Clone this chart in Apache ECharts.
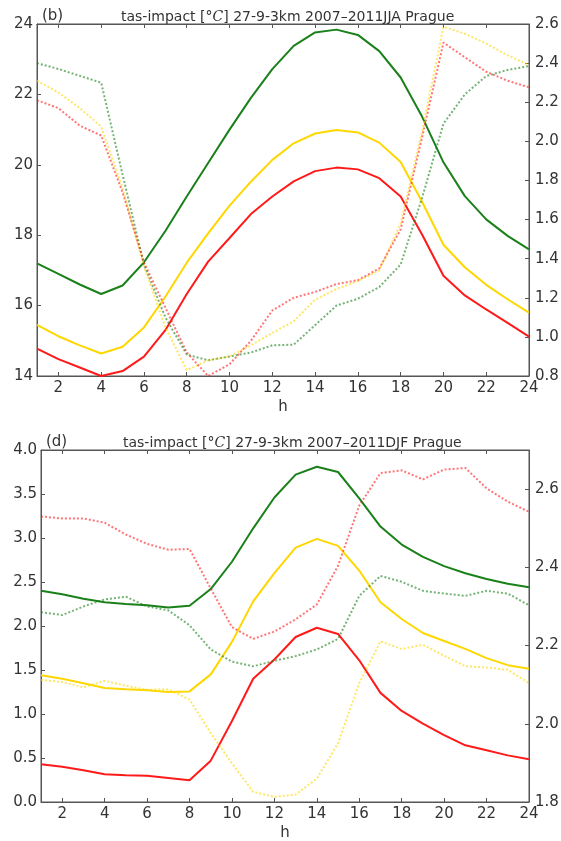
<!DOCTYPE html>
<html>
<head>
<meta charset="utf-8">
<script src="https://cdn.jsdelivr.net/npm/echarts@6/dist/echarts.min.js"></script>
<style>
  html, body { margin: 0; padding: 0; background: #fff; }
  #chart { width: 561px; height: 841px; }
</style>
</head>
<body>
<div id="chart"></div>
<script>
const hours = [1, 2, 3, 4, 5, 6, 7, 8, 9, 10, 11, 12, 13, 14, 15, 16, 17, 18, 19, 20, 21, 22, 23, 24]

// JJA panel (b): solid lines on left axis, dotted on right axis
const jjaGreen = [17.2, 16.9, 16.6, 16.33, 16.57, 17.23, 18.12, 19.1, 20.05, 21.0, 21.9, 22.72, 23.38, 23.76, 23.84, 23.69, 23.23, 22.48, 21.37, 20.07, 19.11, 18.45, 17.98, 17.6]
const jjaGold = [15.45, 15.13, 14.87, 14.64, 14.83, 15.38, 16.25, 17.22, 18.05, 18.84, 19.52, 20.14, 20.61, 20.89, 20.99, 20.92, 20.63, 20.08, 18.95, 17.73, 17.09, 16.59, 16.18, 15.8]
const jjaRed = [14.78, 14.48, 14.24, 14.0, 14.14, 14.55, 15.3, 16.33, 17.25, 17.92, 18.6, 19.1, 19.53, 19.82, 19.92, 19.87, 19.62, 19.1, 18.02, 16.85, 16.29, 15.89, 15.51, 15.12]
const jjaGreenDot = [2.40, 2.37, 2.335, 2.30, 1.83, 1.37, 1.10, 0.91, 0.88, 0.90, 0.92, 0.957, 0.96, 1.06, 1.16, 1.195, 1.255, 1.37, 1.71, 2.09, 2.24, 2.334, 2.365, 2.385]
const jjaGoldDot = [2.31, 2.25, 2.17, 2.075, 1.76, 1.36, 1.05, 0.83, 0.88, 0.90, 0.957, 1.02, 1.08, 1.19, 1.245, 1.285, 1.34, 1.58, 2.05, 2.586, 2.55, 2.50, 2.44, 2.39]
const jjaRedDot = [2.21, 2.17, 2.08, 2.03, 1.74, 1.38, 1.15, 0.92, 0.80, 0.86, 0.98, 1.135, 1.20, 1.23, 1.27, 1.29, 1.35, 1.55, 2.02, 2.505, 2.43, 2.356, 2.31, 2.276]

// DJF panel (d)
const djfGreen = [2.40, 2.36, 2.31, 2.27, 2.25, 2.235, 2.21, 2.23, 2.42, 2.73, 3.11, 3.46, 3.72, 3.81, 3.75, 3.45, 3.13, 2.925, 2.785, 2.68, 2.60, 2.535, 2.48, 2.44]
const djfGold = [1.44, 1.40, 1.35, 1.295, 1.28, 1.27, 1.25, 1.257, 1.45, 1.82, 2.28, 2.60, 2.89, 2.99, 2.91, 2.63, 2.27, 2.08, 1.92, 1.83, 1.74, 1.635, 1.555, 1.515]
const djfRed = [0.43, 0.40, 0.36, 0.316, 0.305, 0.297, 0.274, 0.248, 0.47, 0.92, 1.40, 1.62, 1.875, 1.98, 1.91, 1.61, 1.24, 1.035, 0.89, 0.76, 0.644, 0.587, 0.53, 0.485]
const djfGreenDot = [2.285, 2.278, 2.30, 2.318, 2.325, 2.30, 2.29, 2.252, 2.19, 2.159, 2.147, 2.161, 2.173, 2.19, 2.217, 2.327, 2.378, 2.363, 2.34, 2.333, 2.327, 2.34, 2.333, 2.303]
const djfGoldDot = [2.112, 2.107, 2.093, 2.11, 2.097, 2.087, 2.088, 2.062, 1.976, 1.899, 1.826, 1.813, 1.819, 1.86, 1.95, 2.104, 2.211, 2.191, 2.202, 2.174, 2.147, 2.144, 2.138, 2.104]
const djfRedDot = [2.53, 2.525, 2.525, 2.514, 2.484, 2.46, 2.445, 2.447, 2.346, 2.247, 2.217, 2.236, 2.267, 2.305, 2.404, 2.558, 2.641, 2.648, 2.625, 2.65, 2.654, 2.602, 2.568, 2.542]

const panelTags = ['(b)', '(d)']
const panelTitles = [
  'tas-impact [{it|°C}] 27-9-3km 2007–2011JJA Prague',
  'tas-impact [{it|°C}] 27-9-3km 2007–2011DJF Prague'
]

const FONT = 'DejaVu Sans'
const FRAME = '#555'
const TEXT = '#333'
const GREEN = '#1a801a'
const GOLD = '#ffd700'
const RED = '#ff1a1a'

const grids = [
  { left: 37, right: 32, top: 24, height: 352 },
  { left: 41, right: 32, top: 450, height: 352 }
]
const titleLeft = [116, 118]

const axes = [
  { left: { min: 14, max: 24, interval: 2, digits: 0 }, right: { min: 0.8, max: 2.6, interval: 0.2, digits: 1 } },
  { left: { min: 0, max: 4, interval: 0.5, digits: 1 }, right: { min: 1.8, max: 2.7, interval: 0.2, digits: 1, hideMax: true } }
]

const lines = [
  [[jjaGreen, GREEN], [jjaGold, GOLD], [jjaRed, RED]],
  [[djfGreen, GREEN], [djfGold, GOLD], [djfRed, RED]]
]
const dots = [
  [[jjaGreenDot, GREEN], [jjaGoldDot, GOLD], [jjaRedDot, RED]],
  [[djfGreenDot, GREEN], [djfGoldDot, GOLD], [djfRedDot, RED]]
]

const evenHour = (i, v) => Number(v) % 2 === 0

const xAxis = []
const yAxis = []
const series = []
const title = []

grids.forEach((g, p) => {
  g.show = true
  g.borderColor = FRAME
  g.borderWidth = 1
  g.outerBoundsMode = 'none'

  const base = {
    type: 'category',
    gridIndex: p,
    data: hours.map(String),
    boundaryGap: false,
    axisLine: { lineStyle: { color: FRAME, width: 1 } },
    axisTick: { inside: true, length: 4, interval: evenHour, lineStyle: { color: FRAME } }
  }
  xAxis.push(Object.assign({}, base, {
    position: 'bottom',
    axisLabel: { interval: evenHour, margin: 5, color: TEXT, fontSize: 15, fontFamily: FONT },
    name: 'h',
    nameLocation: 'middle',
    nameGap: 24,
    nameTextStyle: { color: TEXT, fontSize: 15, fontFamily: FONT }
  }))
  xAxis.push(Object.assign({}, base, { position: 'top', axisLabel: { show: false } }))

  ;['left', 'right'].forEach(side => {
    const a = axes[p][side]
    yAxis.push({
      type: 'value',
      gridIndex: p,
      position: side,
      min: a.min,
      max: a.max,
      interval: a.interval,
      alignTicks: false,
      axisLine: { show: true, lineStyle: { color: FRAME, width: 1 } },
      axisTick: { show: true, inside: true, length: 4, lineStyle: { color: FRAME } },
      axisLabel: {
        margin: side === 'right' ? 6 : 4,
        color: TEXT,
        fontSize: 15,
        fontFamily: FONT,
        showMaxLabel: !a.hideMax,
        formatter: v => v.toFixed(a.digits)
      },
      splitLine: { show: false }
    })
  })

  lines[p].forEach(([data, color]) => {
    series.push({
      type: 'line', xAxisIndex: p * 2, yAxisIndex: p * 2, data,
      showSymbol: false, symbol: 'none', silent: true,
      lineStyle: { color, width: 2 }, z: 2
    })
  })
  dots[p].forEach(([data, color]) => {
    series.push({
      type: 'line', xAxisIndex: p * 2, yAxisIndex: p * 2 + 1, data,
      showSymbol: false, symbol: 'none', silent: true,
      lineStyle: { color, width: 2, type: [2, 2], opacity: 0.6 }, z: 3
    })
  })

  title.push({
    text: panelTags[p],
    left: g.left,
    top: g.top - 20,
    textStyle: { color: TEXT, fontSize: 15, fontWeight: 'normal', fontFamily: FONT }
  })
  title.push({
    text: panelTitles[p],
    left: titleLeft[p],
    top: g.top - 19,
    textStyle: {
      color: TEXT, fontSize: 14, fontWeight: 'normal', fontFamily: FONT,
      rich: { it: { fontStyle: 'italic', fontFamily: 'DejaVu Serif', fontSize: 14, color: TEXT } }
    }
  })
})

const chart = echarts.init(document.getElementById('chart'))
chart.setOption({
  animation: false,
  backgroundColor: '#fff',
  title,
  grid: grids,
  xAxis,
  yAxis,
  series
})
</script>
</body>
</html>
